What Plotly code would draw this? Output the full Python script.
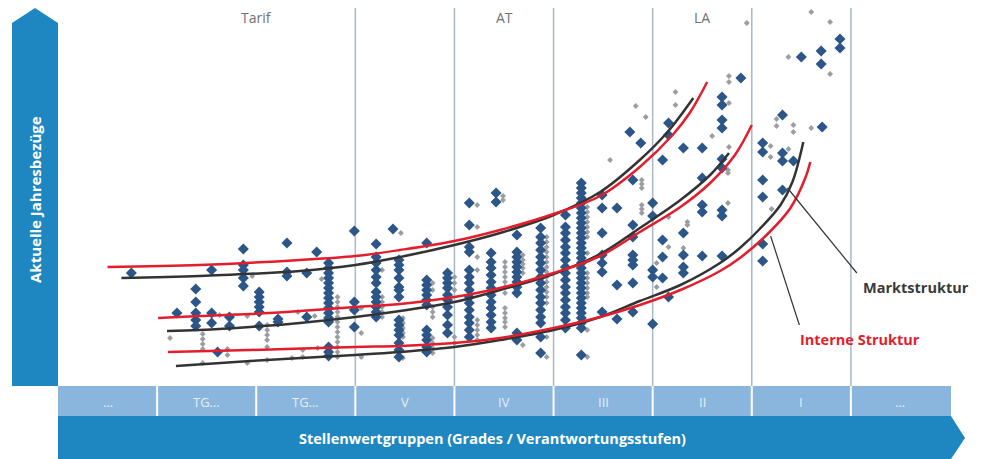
import plotly.graph_objects as go

# ---------------- data (x: job-value position 0..90, y: annual pay index) ----------------
grade_labels = ["…", "TG…", "TG…", "V", "IV", "III", "II", "I", "…"]
grade_centers = [5, 15, 25, 35, 45, 55, 65, 75, 85]
group_labels = ["Tarif", "AT", "LA"]
group_centers = [20, 45, 65]
grade_bounds = [10, 20, 30, 40, 50, 60, 70, 80]
plot_bounds = [30, 40, 50, 60, 70, 80]

blue_cols = [7.4, 12.0, 13.9, 15.5, 16.1, 17.3, 18.7, 20.3, 22.2, 23.1, 25.1, 26.1, 27.3,
             29.9, 32.1, 33.8, 34.4, 37.2, 39.3, 41.5, 43.7, 44.2, 46.3, 48.7, 51.2, 52.8,
             54.9, 56.4, 57.7, 58.0, 58.8, 60.0, 61.0, 61.6, 63.1, 65.0, 67.0, 68.9, 71.1,
             73.1, 74.2, 75.0, 77.0, 77.1, 78.9]
blue_vals = [
    [56.5], [36.5], [48.5, 42, 36.5, 33, 30], [58, 36.5, 31.5], [17], [34.5, 30],
    [68.5, 60.5, 58, 54, 50], [47, 44.5, 42, 39.5, 37, 30], [33.5, 32], [71.5, 57, 55],
    [56.5, 34.5], [67],
    [61.5, 59, 56.5, 54, 51.5, 49, 46.5, 44, 41.5, 39, 36.5, 34, 32, 19.5, 17, 15],
    [77.5, 42, 38, 29.5],
    [71, 64.5, 61.5, 58, 54.5, 51.5, 47, 44.5, 42, 39.5, 37, 34.5],
    [78.5],
    [63, 60.5, 58, 54, 49.5, 48, 44.5, 33, 30.5, 28, 25.5, 21.5, 18, 14.5],
    [71.5, 53, 50.5, 48, 45.5, 43, 40.5, 28, 25.5, 23, 19.5, 17],
    [56.5, 54, 51.5, 49, 45.5, 43, 39.5, 35.5, 30.5, 26.5],
    [91.5, 80.5, 69.5, 67, 58, 54.5, 51.5, 48, 44.5, 41.5, 38, 34.5, 31.5, 28, 24.5],
    [66.5, 62, 59, 55.5, 52, 49, 45.5, 42, 39, 35.5, 32, 29],
    [96.5, 92],
    [75.5, 67, 64.5, 62, 59.5, 57, 54.5, 52, 49.5, 46.5, 26.5, 23],
    [79, 74.5, 71.5, 68, 64.5, 61.5, 58, 54.5, 51.5, 48, 44.5, 41.5, 38, 34.5, 31.5, 24.5, 16.5],
    [85.5, 79.5, 76.5, 73, 69.5, 66.5, 63, 59.5, 56.5, 53, 49.5, 46.5, 43, 39.5, 36.5, 33, 29],
    [101.5, 99, 96.5, 94, 91.5, 89, 86.5, 84, 81.5, 79, 76.5, 74, 71.5, 69, 66.5, 64, 61.5,
     59, 56.5, 54, 51.5, 49, 46.5, 44, 41.5, 39, 36.5, 34, 31.5, 29, 15.5],
    [95.5, 89, 76.5, 65.5, 61.5, 57, 37],
    [89, 50.5, 33.5],
    [127],
    [103, 80.5, 74.5, 65.5, 63, 60.5, 51.5, 37],
    [121.5],
    [91.5, 85, 58, 54.5, 31],
    [113, 73, 64.5, 54],
    [131.5, 125.5, 44.5],
    [119, 76.5, 65.5, 59.5, 56.5],
    [119, 104, 90.5, 87, 65],
    [144.5, 140.5, 133, 129, 113.5, 109, 88, 85, 65],
    [154],
    [121.5, 117, 103, 94.5, 71, 62.5],
    [135.5, 116.5, 112.5, 98],
    [112.5],
    [164.5],
    [167.5, 161],
    [129.5],
    [173.5, 169],
]

gray_cols = [11.3, 14.6, 16.3, 17.1, 19.1, 19.6, 21.1, 23.6, 24.2, 24.7, 25.9, 26.2, 26.6,
             28.2, 30.6, 32.7, 34.6, 34.8, 37.8, 40.0, 42.3, 44.9, 45.1, 46.9, 49.3, 53.4,
             55.7, 58.3, 58.9, 59.3, 60.4, 61.6, 62.3, 63.1, 63.5, 66.0, 67.6, 67.7, 69.5,
             71.9, 72.0, 72.5, 73.7, 74.2, 76.0, 77.9]
gray_vals = [
    [24], [26, 23.5, 21, 18.5, 11.5], [35.5], [18.5, 15.5], [35, 11.5], [55],
    [30.5, 28, 25.5, 23, 19.5, 13], [14], [37], [18, 14.5], [35], [19], [53.5],
    [44.5, 42, 39.5, 37, 34.5, 32, 29.5, 27, 24.5, 22, 19.5, 17, 14.5],
    [39, 26.5, 14.5],
    [58, 44.5, 42, 39.5, 37, 34.5],
    [76.5],
    [34, 31.5, 29, 26.5, 24.5, 14],
    [51.5, 48, 39.5, 37, 34.5, 24, 21.5, 19, 16.5],
    [54.5, 51.5, 48, 24.5, 21.5],
    [90.5, 79.5, 64.5, 58, 33, 30.5, 28, 25.5, 23],
    [95, 93],
    [62, 59.5, 57, 54.5, 52, 49.5, 46.5, 39, 36.5, 34, 32, 29.5],
    [65.5, 63, 61, 59, 56.5, 20.5],
    [74.5, 72, 69.5, 67, 64.5, 62, 59.5, 57, 54.5, 52, 49.5, 47, 44.5, 41.5, 24.5, 14.5],
    [89.5, 87, 84.5, 82, 79.5, 77, 74.5, 66.5, 56.5, 54, 51.5, 49, 46.5, 44.5, 28, 14.5],
    [113], [140], [103, 101, 99, 90.5, 88.5, 86.5], [134.5], [61.5, 49.5], [84.5, 69.5],
    [147, 140.5], [69], [82, 80.5], [125], [108, 106.5, 91.5], [155, 152, 141.5, 119.5],
    [181.5], [120, 114.5], [88.5], [133.5, 130], [164.5, 118.5], [130.5, 127], [187, 129],
    [182, 156],
]

# structure curves (market = black, internal = red)
markt_hi_x = [6.4, 14.3, 24.4, 30.0, 34.5, 40.0, 44.6, 50.0, 54.7, 58.7, 61.5, 64.1]
markt_hi_y = [54, 55, 57.5, 60.5, 64.5, 70.5, 76.5, 85.5, 97, 113, 127, 144]
intern_hi_x = [5.0, 14.3, 24.4, 30.0, 34.5, 40.0, 44.6, 50.0, 54.7, 58.7, 62.1, 63.8, 65.5]
intern_hi_y = [59.5, 60.5, 63, 65, 68, 72.5, 78, 86, 95, 109.5, 126, 137, 152]

markt_mid_x = [11.0, 14.3, 19.4, 24.4, 30.0, 34.5, 40.0, 44.6, 50.0, 54.7, 58.7, 62.8, 65.8, 67.7]
markt_mid_y = [27.5, 28, 29.5, 31.5, 34.5, 37.5, 42, 48, 56, 66, 79, 93, 105.5, 116.5]
intern_mid_x = [10.1, 14.3, 19.4, 24.4, 30.0, 34.5, 40.0, 44.6, 50.0, 54.7, 58.7, 62.8, 65.8, 68.3, 70.0]
intern_mid_y = [34, 35, 36, 37.5, 39.5, 41, 44.5, 49, 56.5, 65, 77, 89.5, 101.5, 115.5, 130.5]

markt_lo_x = [11.9, 19.4, 30.0, 34.5, 40.0, 44.6, 50.0, 54.7, 58.7, 62.8, 66.8, 68.8, 70.8, 72.9, 74.1, 75.2]
markt_lo_y = [10, 12.5, 15.5, 17, 19.5, 23, 28, 34.5, 42.5, 50.5, 61.5, 69, 78.5, 90.5, 102, 122]
intern_lo_x = [11.1, 19.4, 30.0, 34.5, 40.0, 44.6, 50.0, 54.7, 58.7, 62.8, 66.8, 68.8, 71.8, 73.9, 75.4, 75.9]
intern_lo_y = [17, 18, 19.5, 20, 21.5, 24, 29, 34.5, 40.5, 48, 57.5, 64, 77, 89, 104, 112]

# ---------------- styling ----------------
BLUE_DARK = "#1e87c1"
BLUE_LIGHT = "#8ab6de"
DIAMOND = "#2c5687"
GRAY = "#9a9ea3"
RED = "#e31d2c"
BLACK = "#333333"
FONT = "Open Sans"

W, H = 981, 459
ML, MR, MT, MB = 58, 31, 0, 73
PW, PH = W - ML - MR, H - MT - MB


def px(xp):
    return (xp - ML) / PW


def py(yp):
    return (H - MB - yp) / PH


fig = go.Figure()

gx, gy = [], []
for c, vals in zip(gray_cols, gray_vals):
    gx += [c] * len(vals)
    gy += vals
fig.add_trace(go.Scatter(x=gx, y=gy, mode="markers",
                         marker=dict(symbol="diamond", size=4.5, color=GRAY, line=dict(width=0)),
                         hoverinfo="skip"))

bx, by = [], []
for c, vals in zip(blue_cols, blue_vals):
    bx += [c] * len(vals)
    by += vals
fig.add_trace(go.Scatter(x=bx, y=by, mode="markers",
                         marker=dict(symbol="diamond", size=8.5, color=DIAMOND, line=dict(width=0)),
                         hoverinfo="skip"))

for xs, ys, col in [(markt_hi_x, markt_hi_y, BLACK), (intern_hi_x, intern_hi_y, RED),
                    (markt_mid_x, markt_mid_y, BLACK), (intern_mid_x, intern_mid_y, RED),
                    (markt_lo_x, markt_lo_y, BLACK), (intern_lo_x, intern_lo_y, RED)]:
    fig.add_trace(go.Scatter(x=xs, y=ys, mode="lines",
                             line=dict(color=col, width=2.5, shape="spline", smoothing=1.0),
                             hoverinfo="skip"))

shapes = []
for b in plot_bounds:
    shapes.append(dict(type="line", xref="x", yref="y", x0=b, x1=b, y0=0, y1=189,
                       line=dict(color="#a9b9c7", width=1.5), layer="below"))

# left axis arrow
shapes.append(dict(type="path", xref="paper", yref="paper",
                   path=f"M {px(12)},{py(386)} L {px(12)},{py(23)} L {px(35)},{py(8)} "
                        f"L {px(58)},{py(23)} L {px(58)},{py(386)} Z",
                   fillcolor=BLUE_DARK, line=dict(width=0)))
# light grade band
shapes.append(dict(type="rect", xref="paper", yref="paper", x0=px(58), x1=px(951),
                   y0=py(416), y1=py(386), fillcolor=BLUE_LIGHT, line=dict(width=0)))
for b in grade_bounds:
    shapes.append(dict(type="line", xref="paper", yref="paper", x0=b / 90, x1=b / 90,
                       y0=py(416), y1=py(386), line=dict(color="white", width=2)))
# bottom arrow
shapes.append(dict(type="path", xref="paper", yref="paper",
                   path=f"M {px(58)},{py(416)} L {px(951)},{py(416)} L {px(965)},{py(438)} "
                        f"L {px(951)},{py(459)} L {px(58)},{py(459)} Z",
                   fillcolor=BLUE_DARK, line=dict(width=0)))
# leader lines
shapes.append(dict(type="line", xref="x", yref="y", x0=73.6, y0=99, x1=80.6, y1=56.5,
                   line=dict(color="#333333", width=1.2)))
shapes.append(dict(type="line", xref="x", yref="y", x0=71.9, y0=75, x1=74.8, y1=30.5,
                   line=dict(color="#333333", width=1.2)))

annotations = []
for lab, c in zip(grade_labels, grade_centers):
    annotations.append(dict(x=c, y=py(402), xref="x", yref="paper", text=lab, showarrow=False,
                            xanchor="center", yanchor="middle",
                            font=dict(family=FONT, size=13, color="#e4eef8")))
for lab, c in zip(group_labels, group_centers):
    annotations.append(dict(x=c, y=py(17), xref="x", yref="paper", text=lab, showarrow=False,
                            xanchor="center", yanchor="middle",
                            font=dict(family=FONT, size=14, color="#707070")))
annotations.append(dict(x=px(35), y=py(200), xref="paper", yref="paper", textangle=-90,
                        xanchor="center", yanchor="middle",
                        text="<b>Aktuelle Jahresbezüge</b>", showarrow=False,
                        font=dict(family=FONT, size=15, color="white")))
annotations.append(dict(x=px(492), y=py(438), xref="paper", yref="paper",
                        xanchor="center", yanchor="middle",
                        text="<b>Stellenwertgruppen (Grades / Verantwortungsstufen)</b>",
                        showarrow=False, font=dict(family=FONT, size=14.5, color="white")))
annotations.append(dict(x=px(861), y=py(287), xref="paper", yref="paper", xanchor="left",
                        yanchor="middle",
                        text="<b>Marktstruktur</b>", showarrow=False,
                        font=dict(family=FONT, size=14.5, color="#3a3a3a")))
annotations.append(dict(x=px(798), y=py(339), xref="paper", yref="paper", xanchor="left",
                        yanchor="middle",
                        text="<b>Interne Struktur</b>", showarrow=False,
                        font=dict(family=FONT, size=14.5, color=RED)))

fig.update_layout(
    width=W, height=H, margin=dict(l=ML, r=MR, t=MT, b=MB),
    paper_bgcolor="white", plot_bgcolor="white", showlegend=False,
    xaxis=dict(range=[0, 90], visible=False, fixedrange=True),
    yaxis=dict(range=[0, PH / 2], visible=False, fixedrange=True),
    shapes=shapes, annotations=annotations,
)

fig.write_html("out.html", config={"displayModeBar": False},
               post_script="document.body.style.margin='0';document.body.style.overflow='hidden';")
